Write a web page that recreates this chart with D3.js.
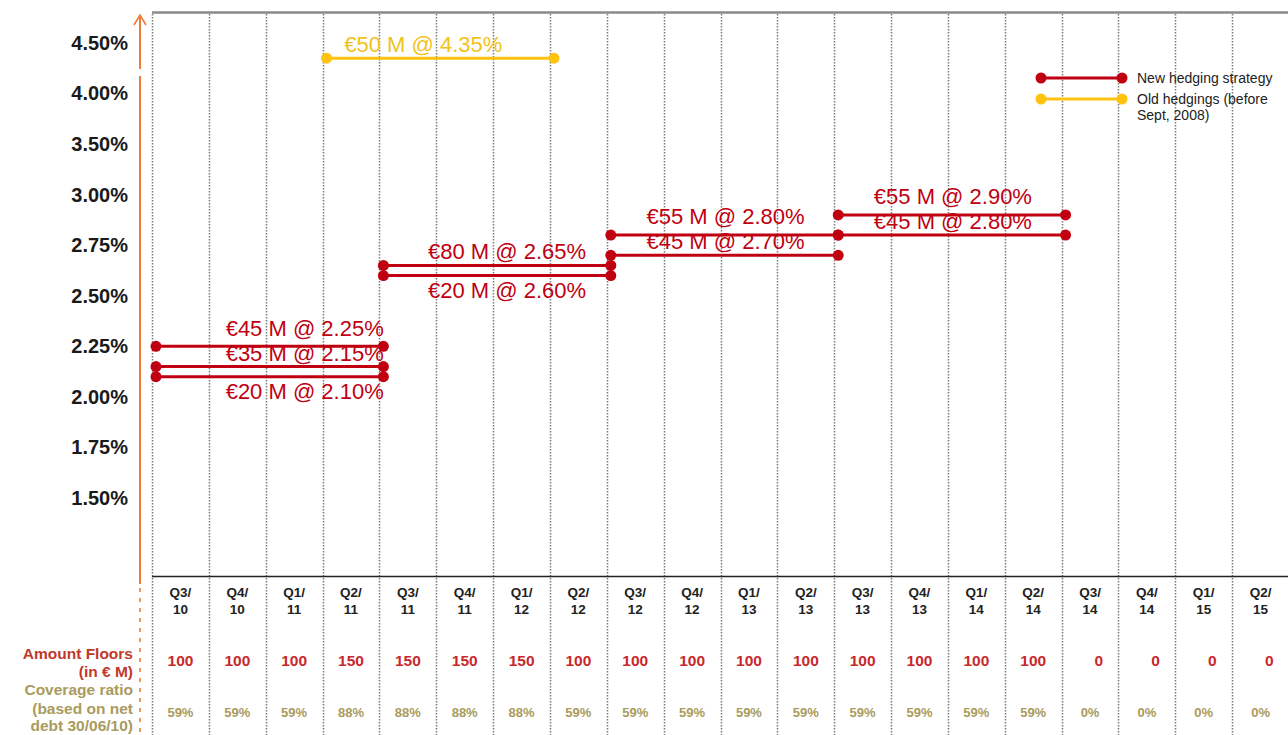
<!DOCTYPE html>
<html>
<head>
<meta charset="utf-8">
<script src="https://cdn.jsdelivr.net/npm/d3@7"></script>
<style>
  html, body { margin: 0; padding: 0; background: #fff; }
  svg { display: block; font-family: "Liberation Sans", Arial, sans-serif; }
</style>
</head>
<body>
<svg id="chart" width="1288" height="735"></svg>
<script>
// Quarters shown along the bottom of the chart
const quarters = ["Q3/10","Q4/10","Q1/11","Q2/11","Q3/11","Q4/11","Q1/12","Q2/12",
                  "Q3/12","Q4/12","Q1/13","Q2/13","Q3/13","Q4/13","Q1/14","Q2/14",
                  "Q3/14","Q4/14","Q1/15","Q2/15"];

// Interest-rate floors: notional (€ M), strike rate (%), first and last quarter covered
const hedgeAmount = [45, 35, 20, 80, 20, 55, 45, 55, 45, 50];
const hedgeRate   = [2.25, 2.15, 2.10, 2.65, 2.60, 2.80, 2.70, 2.90, 2.80, 4.35];
const hedgeFirst  = ["Q3/10","Q3/10","Q3/10","Q3/11","Q3/11","Q3/12","Q3/12","Q3/13","Q3/13","Q2/11"];
const hedgeLast   = ["Q2/11","Q2/11","Q2/11","Q2/12","Q2/12","Q2/13","Q2/13","Q2/14","Q2/14","Q1/12"];
const hedgeType   = ["new","new","new","new","new","new","new","new","new","old"];

// Table rows under the chart
const amountFloors  = [100,100,100,150,150,150,150,100,100,100,100,100,100,100,100,100,0,0,0,0];
const coverageRatio = [59,59,59,88,88,88,88,59,59,59,59,59,59,59,59,59,0,0,0,0];

// Rate axis tick values (%)
const yTicks = [1.50, 1.75, 2.00, 2.25, 2.50, 2.75, 3.00, 3.50, 4.00, 4.50];

const legendItems = ["new", "old"];
const legendText = { new: ["New hedging strategy"], old: ["Old hedgings (before", "Sept, 2008)"] };

const RED = "#c00010", YELLOW = "#ffc20e", YELLOW_TXT = "#f2c21a",
      ORANGE = "#ee7d3a", AMOUNT_RED = "#c8282c", TAN = "#a99b5c";
const colorOf = t => t === "new" ? RED : YELLOW;

const svg = d3.select("#chart");

// Horizontal: one unit per quarter, boundaries at integers
const x = d3.scaleLinear().domain([0, quarters.length]).range([152, 1289]);
// Vertical: tick values are evenly spaced on the axis, so the scale is piecewise linear through them
const y = d3.scaleLinear()
  .domain(yTicks)
  .range(yTicks.map((d, i) => 498 - i * (498 - 43) / (yTicks.length - 1)));

// Top border
svg.append("line").attr("x1", 152).attr("x2", 1288).attr("y1", 12.5).attr("y2", 12.5)
  .attr("stroke", "#8a8a8a").attr("stroke-width", 2.5);

// Dotted quarter separators
svg.append("g").selectAll("line")
  .data(d3.range(quarters.length + 1))
  .join("line")
  .attr("x1", d => Math.round(x(d)) + 0.5).attr("x2", d => Math.round(x(d)) + 0.5)
  .attr("y1", 14).attr("y2", 735)
  .attr("stroke", "#7a7a7a").attr("stroke-width", 1.5)
  .attr("stroke-dasharray", "1.5,1.5");

// Bottom axis line
svg.append("line").attr("x1", 152).attr("x2", 1288).attr("y1", 576.5).attr("y2", 576.5)
  .attr("stroke", "#222").attr("stroke-width", 1.5);

// Vertical rate axis (orange, with arrow, a break, and a dashed tail)
const axisX = 140;
svg.append("line").attr("x1", axisX).attr("x2", axisX).attr("y1", 16).attr("y2", 69)
  .attr("stroke", ORANGE).attr("stroke-width", 2);
svg.append("line").attr("x1", axisX).attr("x2", axisX).attr("y1", 76).attr("y2", 584)
  .attr("stroke", ORANGE).attr("stroke-width", 2);
svg.append("line").attr("x1", axisX).attr("x2", axisX).attr("y1", 588).attr("y2", 735)
  .attr("stroke", ORANGE).attr("stroke-width", 1.6).attr("stroke-dasharray", "4,6");
svg.append("path").attr("d", `M${axisX - 6},25 L${axisX},15 L${axisX + 6},25`)
  .attr("fill", "none").attr("stroke", ORANGE).attr("stroke-width", 1.6);

// Rate tick labels
const yAxis = d3.axisLeft(y).tickValues(yTicks).tickSize(0).tickPadding(0)
  .tickFormat(d => d3.format(".2f")(d) + "%");
const gy = svg.append("g").attr("transform", "translate(128,0)").call(yAxis);
gy.select(".domain").remove();
gy.selectAll("text").attr("font-size", 20).attr("font-weight", "bold")
  .attr("fill", "#1a1a1a").attr("font-family", "Liberation Sans, Arial, sans-serif");

// Floor segments
const hedges = hedgeAmount.map((a, i) => ({
  amount: a, rate: hedgeRate[i], type: hedgeType[i], block: hedgeFirst[i],
  from: quarters.indexOf(hedgeFirst[i]),
  to: quarters.indexOf(hedgeLast[i]) + 1
}));

const endShift = 4;
const gh = svg.append("g");
gh.selectAll("line").data(hedges).join("line")
  .attr("x1", d => x(d.from) + endShift).attr("x2", d => x(d.to) + endShift)
  .attr("y1", d => y(d.rate)).attr("y2", d => y(d.rate))
  .attr("stroke", d => colorOf(d.type)).attr("stroke-width", 3);
gh.selectAll("circle").data(hedges.flatMap(d => [
    { q: d.from, rate: d.rate, type: d.type }, { q: d.to, rate: d.rate, type: d.type }]))
  .join("circle")
  .attr("cx", d => x(d.q) + endShift).attr("cy", d => y(d.rate)).attr("r", 5.5)
  .attr("fill", d => colorOf(d.type));

// Segment labels: normally just above the line; the lowest line goes below when
// the line above it is too close. Stacked labels are pushed up so they never collide.
const LABEL_SIZE = 22, LABEL_STEP = 25;
const labelShift = { "Q3/10": 39, "Q3/11": 14, "Q3/12": 5, "Q3/13": 5, "Q2/11": -13 };
const labelY = new Map();
d3.groups(hedges, d => d.block).forEach(([, group]) => {
  const sorted = group.slice().sort((a, b) => a.rate - b.rate);   // lowest rate first
  let ceiling = Infinity;
  sorted.forEach((d, i) => {
    const py = y(d.rate);
    const next = sorted[i + 1];
    if (i === 0 && next && py - y(next.rate) < 18) {
      labelY.set(d, py + 22);            // below its own line
      return;
    }
    const yy = Math.min(py - 6, ceiling);
    labelY.set(d, yy);
    ceiling = yy - LABEL_STEP;
  });
});
gh.selectAll("text").data(hedges).join("text")
  .attr("x", d => (x(d.from) + x(d.to)) / 2 + (labelShift[d.block] || 0))
  .attr("y", d => labelY.get(d))
  .attr("text-anchor", "middle").attr("font-size", LABEL_SIZE)
  .attr("fill", d => d.type === "new" ? RED : YELLOW_TXT)
  .text(d => `€${d.amount} M @ ${d3.format(".2f")(d.rate)}%`);

// Legend
const lg = svg.append("g").selectAll("g").data(legendItems).join("g")
  .attr("transform", (d, i) => `translate(0,${78 + i * 21})`);
lg.append("line").attr("x1", 1041).attr("x2", 1122).attr("y1", 0).attr("y2", 0)
  .attr("stroke", d => colorOf(d)).attr("stroke-width", 3);
lg.selectAll("circle").data(d => [{ cx: 1041, t: d }, { cx: 1122, t: d }]).join("circle")
  .attr("cx", d => d.cx).attr("cy", 0).attr("r", 5.5).attr("fill", d => colorOf(d.t));
lg.append("text").attr("x", 1137).attr("y", 5).attr("font-size", 14).attr("fill", "#222")
  .selectAll("tspan").data(d => legendText[d]).join("tspan")
  .attr("x", 1137).attr("dy", (d, i) => i ? 16 : 0).text(d => d);

// Quarter labels
const colCenter = i => (x(i) + x(i + 1)) / 2;
const qg = svg.append("g").selectAll("text").data(quarters).join("text")
  .attr("text-anchor", "middle").attr("font-size", 13.5).attr("font-weight", "bold").attr("fill", "#222");
qg.append("tspan").attr("x", (d, i) => colCenter(i)).attr("y", 597).text(d => d.split("/")[0] + "/");
qg.append("tspan").attr("x", (d, i) => colCenter(i)).attr("y", 614).text(d => d.split("/")[1]);

// Amount row (right-aligned numbers)
svg.append("g").selectAll("text").data(amountFloors).join("text")
  .attr("x", (d, i) => colCenter(i) + 13).attr("y", 666)
  .attr("text-anchor", "end").attr("font-size", 15.5).attr("font-weight", "bold")
  .attr("fill", AMOUNT_RED).text(d => d);

// Coverage row
svg.append("g").selectAll("text").data(coverageRatio).join("text")
  .attr("x", (d, i) => colCenter(i)).attr("y", 717)
  .attr("text-anchor", "middle").attr("font-size", 13).attr("font-weight", "bold")
  .attr("fill", TAN).text(d => d + "%");

// Row headers
const rowHeads = [
  { t: "Amount Floors", y: 659, c: "#c0392b" },
  { t: "(in € M)", y: 677, c: "#c0392b" },
  { t: "Coverage ratio", y: 695, c: TAN },
  { t: "(based on net", y: 714, c: TAN },
  { t: "debt 30/06/10)", y: 731, c: TAN }
];
svg.append("g").selectAll("text").data(rowHeads).join("text")
  .attr("x", 133).attr("y", d => d.y).attr("text-anchor", "end")
  .attr("font-size", 15.5).attr("font-weight", "bold").attr("fill", d => d.c).text(d => d.t);
</script>
</body>
</html>
